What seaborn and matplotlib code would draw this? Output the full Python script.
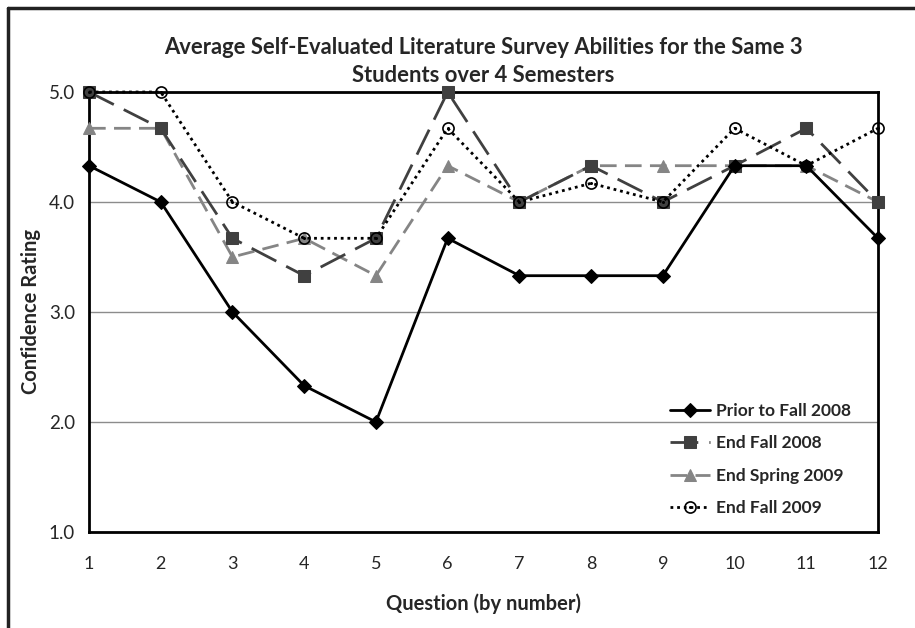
import matplotlib
matplotlib.use("Agg")
import matplotlib.pyplot as plt
import seaborn as sns
import pandas as pd
from matplotlib.lines import Line2D
from matplotlib.legend_handler import HandlerTuple

questions = list(range(1, 13))
prior_fall_2008 = [4.33, 4.0, 3.0, 2.33, 2.0, 3.67, 3.33, 3.33, 3.33, 4.33, 4.33, 3.67]
end_fall_2008 = [5.0, 4.67, 3.67, 3.33, 3.67, 5.0, 4.0, 4.33, 4.0, 4.33, 4.67, 4.0]
end_spring_2009 = [4.67, 4.67, 3.5, 3.67, 3.33, 4.33, 4.0, 4.33, 4.33, 4.33, 4.33, 4.0]
end_fall_2009 = [5.0, 5.0, 4.0, 3.67, 3.67, 4.67, 4.0, 4.17, 4.0, 4.67, 4.33, 4.67]
series_names = ["Prior to Fall 2008", "End Fall 2008", "End Spring 2009", "End Fall 2009"]
yticks = [1.0, 2.0, 3.0, 4.0, 5.0]

sns.set_theme(style="white")
plt.rcParams['font.family'] = ['Lato', 'DejaVu Sans']

fig = plt.figure(figsize=(9.15, 6.28), dpi=100)
ax = fig.add_axes([0.0973, 0.1529, 0.8623, 0.7006])

styles = [
    dict(color="black", lw=2, marker="D", markersize=7, markeredgecolor="black",
         markerfacecolor="black", linestyle="-", zorder=5),
    dict(color="#404040", lw=2, marker="s", markersize=8, markeredgecolor="#404040",
         markerfacecolor="#404040", dashes=(10, 4), zorder=4),
    dict(color="#858585", lw=2, marker="^", markersize=9, markeredgecolor="#858585",
         markerfacecolor="#858585", dashes=(6, 3), zorder=3),
    dict(color="black", lw=2, marker="o", markersize=8, markeredgecolor="black",
         markerfacecolor="none", markeredgewidth=1.2, dashes=(1, 1.4), zorder=6),
]
all_series = [prior_fall_2008, end_fall_2008, end_spring_2009, end_fall_2009]
handles = []
for name, vals, st in zip(series_names, all_series, styles):
    df = pd.DataFrame({"q": questions, "v": vals})
    sns.lineplot(data=df, x="q", y="v", ax=ax, clip_on=False, legend=False, **st)
    handles.append(ax.lines[-1])

# inner dot of the circle markers
df = pd.DataFrame({"q": questions, "v": end_fall_2009})
sns.lineplot(data=df, x="q", y="v", ax=ax, color="black", lw=0, marker="o",
             markersize=2.2, markeredgewidth=0, clip_on=False, legend=False, zorder=7)
dot_handle = Line2D([], [], color="black", lw=0, marker="o", markersize=2.2, markeredgewidth=0)

ax.set_xlim(1, 12)
ax.set_ylim(1, 5)
ax.set_xticks(questions)
ax.set_xticklabels([str(q) for q in questions], fontsize=13)
ax.set_yticks(yticks)
ax.set_yticklabels([f"{t:.1f}" for t in yticks], fontsize=13.5)
ax.yaxis.grid(True, color="#8c8c8c", lw=1)
ax.set_axisbelow(True)
for s in ax.spines.values():
    s.set_color("black")
    s.set_linewidth(2)
ax.tick_params(axis="both", direction="out", length=5, width=2, color="black")
ax.tick_params(axis="x", pad=12)
ax.tick_params(axis="y", pad=5)

ax.set_xlabel("Question (by number)", fontsize=14.5, fontweight="bold", labelpad=16)
ax.set_ylabel("Confidence Rating", fontsize=14.5, fontweight="bold", labelpad=6)
ax.set_title("Average Self-Evaluated Literature Survey Abilities for the Same 3\nStudents over 4 Semesters",
             fontsize=15.8, fontweight="bold", pad=7, linespacing=1.4)

leg_handles = handles[:3] + [(handles[3], dot_handle)]
ax.legend(leg_handles, series_names, loc="lower right", bbox_to_anchor=(0.985, 0.0),
          frameon=False, prop={"size": 12.5, "weight": "bold"}, handlelength=2.3,
          labelspacing=0.95, handletextpad=0.3, handler_map={tuple: HandlerTuple(ndivide=1)})

fig.add_artist(Line2D([0.009, 0.009], [0.0, 0.987], color="#222222", lw=2.5, transform=fig.transFigure))
fig.add_artist(Line2D([0.009, 1.0], [0.987, 0.987], color="#222222", lw=2.5, transform=fig.transFigure))

fig.savefig("out.png", dpi=100, facecolor="white")
